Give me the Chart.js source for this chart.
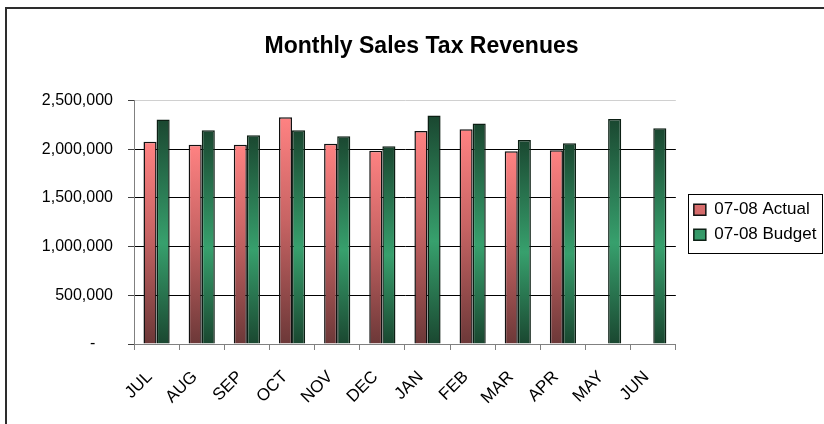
<!DOCTYPE html>
<html>
<head>
<meta charset="utf-8">
<script src="https://cdn.jsdelivr.net/npm/chart.js@4.4.1/dist/chart.umd.min.js"></script>
<style>
html,body{margin:0;padding:0;background:#fff;}
#wrap{width:824px;height:424px;position:relative;}
</style>
</head>
<body>
<div id="wrap"><canvas id="c" width="824" height="424"></canvas></div>
<script>
const months = ['JUL','AUG','SEP','OCT','NOV','DEC','JAN','FEB','MAR','APR','MAY','JUN'];
const actual = [2078000, 2047000, 2047000, 2330000, 2058000, 1986000, 2189000, 2206000, 1979000, 1990000, null, null];
const budget = [2305000, 2196000, 2144000, 2196000, 2134000, 2031000, 2346000, 2264000, 2096000, 2062000, 2312000, 2216000];
const yTicks = [0, 500000, 1000000, 1500000, 2000000, 2500000];

const FONT = 'Arial, "Liberation Sans", sans-serif';

function barGradient(stops, solid) {
  return function(ctx) {
    const chart = ctx.chart;
    if (ctx.type !== 'data' || !chart.chartArea || ctx.raw == null) return solid;
    const ys = chart.scales.y;
    const top = ys.getPixelForValue(ctx.raw);
    const bot = ys.getPixelForValue(0);
    const g = chart.ctx.createLinearGradient(0, top, 0, bot);
    stops.forEach(s => g.addColorStop(s[0], s[1]));
    return g;
  };
}

const frame = {
  id: 'frame',
  beforeDraw(chart) {
    const c = chart.ctx;
    c.save();
    c.fillStyle = '#fff';
    c.fillRect(0, 0, chart.width, chart.height);
    c.restore();
  },
  afterDraw(chart) {
    const c = chart.ctx;
    c.save();
    c.strokeStyle = '#2d2d2d';
    c.lineWidth = 2;
    c.beginPath();
    c.moveTo(6, chart.height + 2);
    c.lineTo(6, 8);
    c.lineTo(chart.width + 2, 8);
    c.stroke();
    const lg = chart.legend;
    if (lg && lg.legendHitBoxes && lg.legendHitBoxes.length) {
      const hb = lg.legendHitBoxes;
      const l = hb[0].left - 6;
      const t = hb[0].top - 7;
      const b = hb[hb.length - 1].top + hb[hb.length - 1].height + 10;
      const r = chart.width - 2;
      c.strokeStyle = '#000';
      c.lineWidth = 1;
      c.strokeRect(Math.round(l) + 0.5, Math.round(t) + 0.5, Math.round(r - l), Math.round(b - t));
    }
    c.restore();
  }
};

new Chart(document.getElementById('c'), {
  type: 'bar',
  data: {
    labels: months,
    datasets: [
      {
        label: '07-08 Actual',
        data: actual,
        backgroundColor: barGradient([[0, '#ff8282'], [0.45, '#c86464'], [1, '#6c3838']], '#d86a6a'),
        borderColor: '#111',
        borderWidth: 1.5,
        categoryPercentage: 0.58,
        barPercentage: 1.0
      },
      {
        label: '07-08 Budget',
        data: budget,
        backgroundColor: barGradient([[0, '#1a4730'], [0.55, '#37a06d'], [1, '#1a4730']], '#2a7a52'),
        borderColor: '#0c1f14',
        borderWidth: 1.5,
        categoryPercentage: 0.58,
        barPercentage: 1.0
      }
    ]
  },
  options: {
    responsive: false,
    animation: false,
    devicePixelRatio: 1,
    layout: { padding: { top: 10, left: 25, right: 6, bottom: 0 } },
    plugins: {
      title: {
        display: true,
        text: 'Monthly Sales Tax Revenues',
        color: '#000',
        font: { family: FONT, size: 23, weight: 'bold' },
        padding: { top: 23, bottom: 40 }
      },
      legend: {
        display: true,
        position: 'right',
        fullSize: false,
        labels: {
          color: '#000',
          font: { family: FONT, size: 17 },
          boxWidth: 12,
          boxHeight: 11,
          padding: 8
        }
      },
      tooltip: { enabled: false }
    },
    scales: {
      x: {
        offset: true,
        grid: { display: true, drawOnChartArea: false, offset: true, tickLength: 6, tickColor: '#808080' },
        border: { color: '#808080', width: 1 },
        ticks: {
          color: '#000',
          font: { family: FONT, size: 17 },
          minRotation: 45,
          maxRotation: 45,
          padding: 17,
          labelOffset: -7
        },
        afterFit(s) { s.height = 80; }
      },
      y: {
        min: 0,
        max: 2500000,
        afterBuildTicks(s) { s.ticks = yTicks.map(v => ({ value: v })); },
        grid: {
          color: c => (c.tick && c.tick.value === 2500000) ? '#d0d0d0' : (c.tick && c.tick.value === 0 ? '#808080' : '#000'),
          tickColor: '#404040',
          tickLength: 6,
          lineWidth: 1
        },
        border: { color: '#808080', width: 1 },
        ticks: {
          color: '#000',
          font: { family: FONT, size: 16 },
          padding: 15,
          callback: v => v === 0 ? '-    ' : Number(v).toLocaleString('en-US')
        },
        afterFit(s) { s.width = 109; }
      },
      yR: {
        position: 'right',
        display: true,
        grid: { display: false, drawOnChartArea: false },
        border: { display: false },
        ticks: { display: false },
        afterFit(s) { s.width = 10; }
      }
    }
  },
  plugins: [frame]
});
</script>
</body>
</html>
